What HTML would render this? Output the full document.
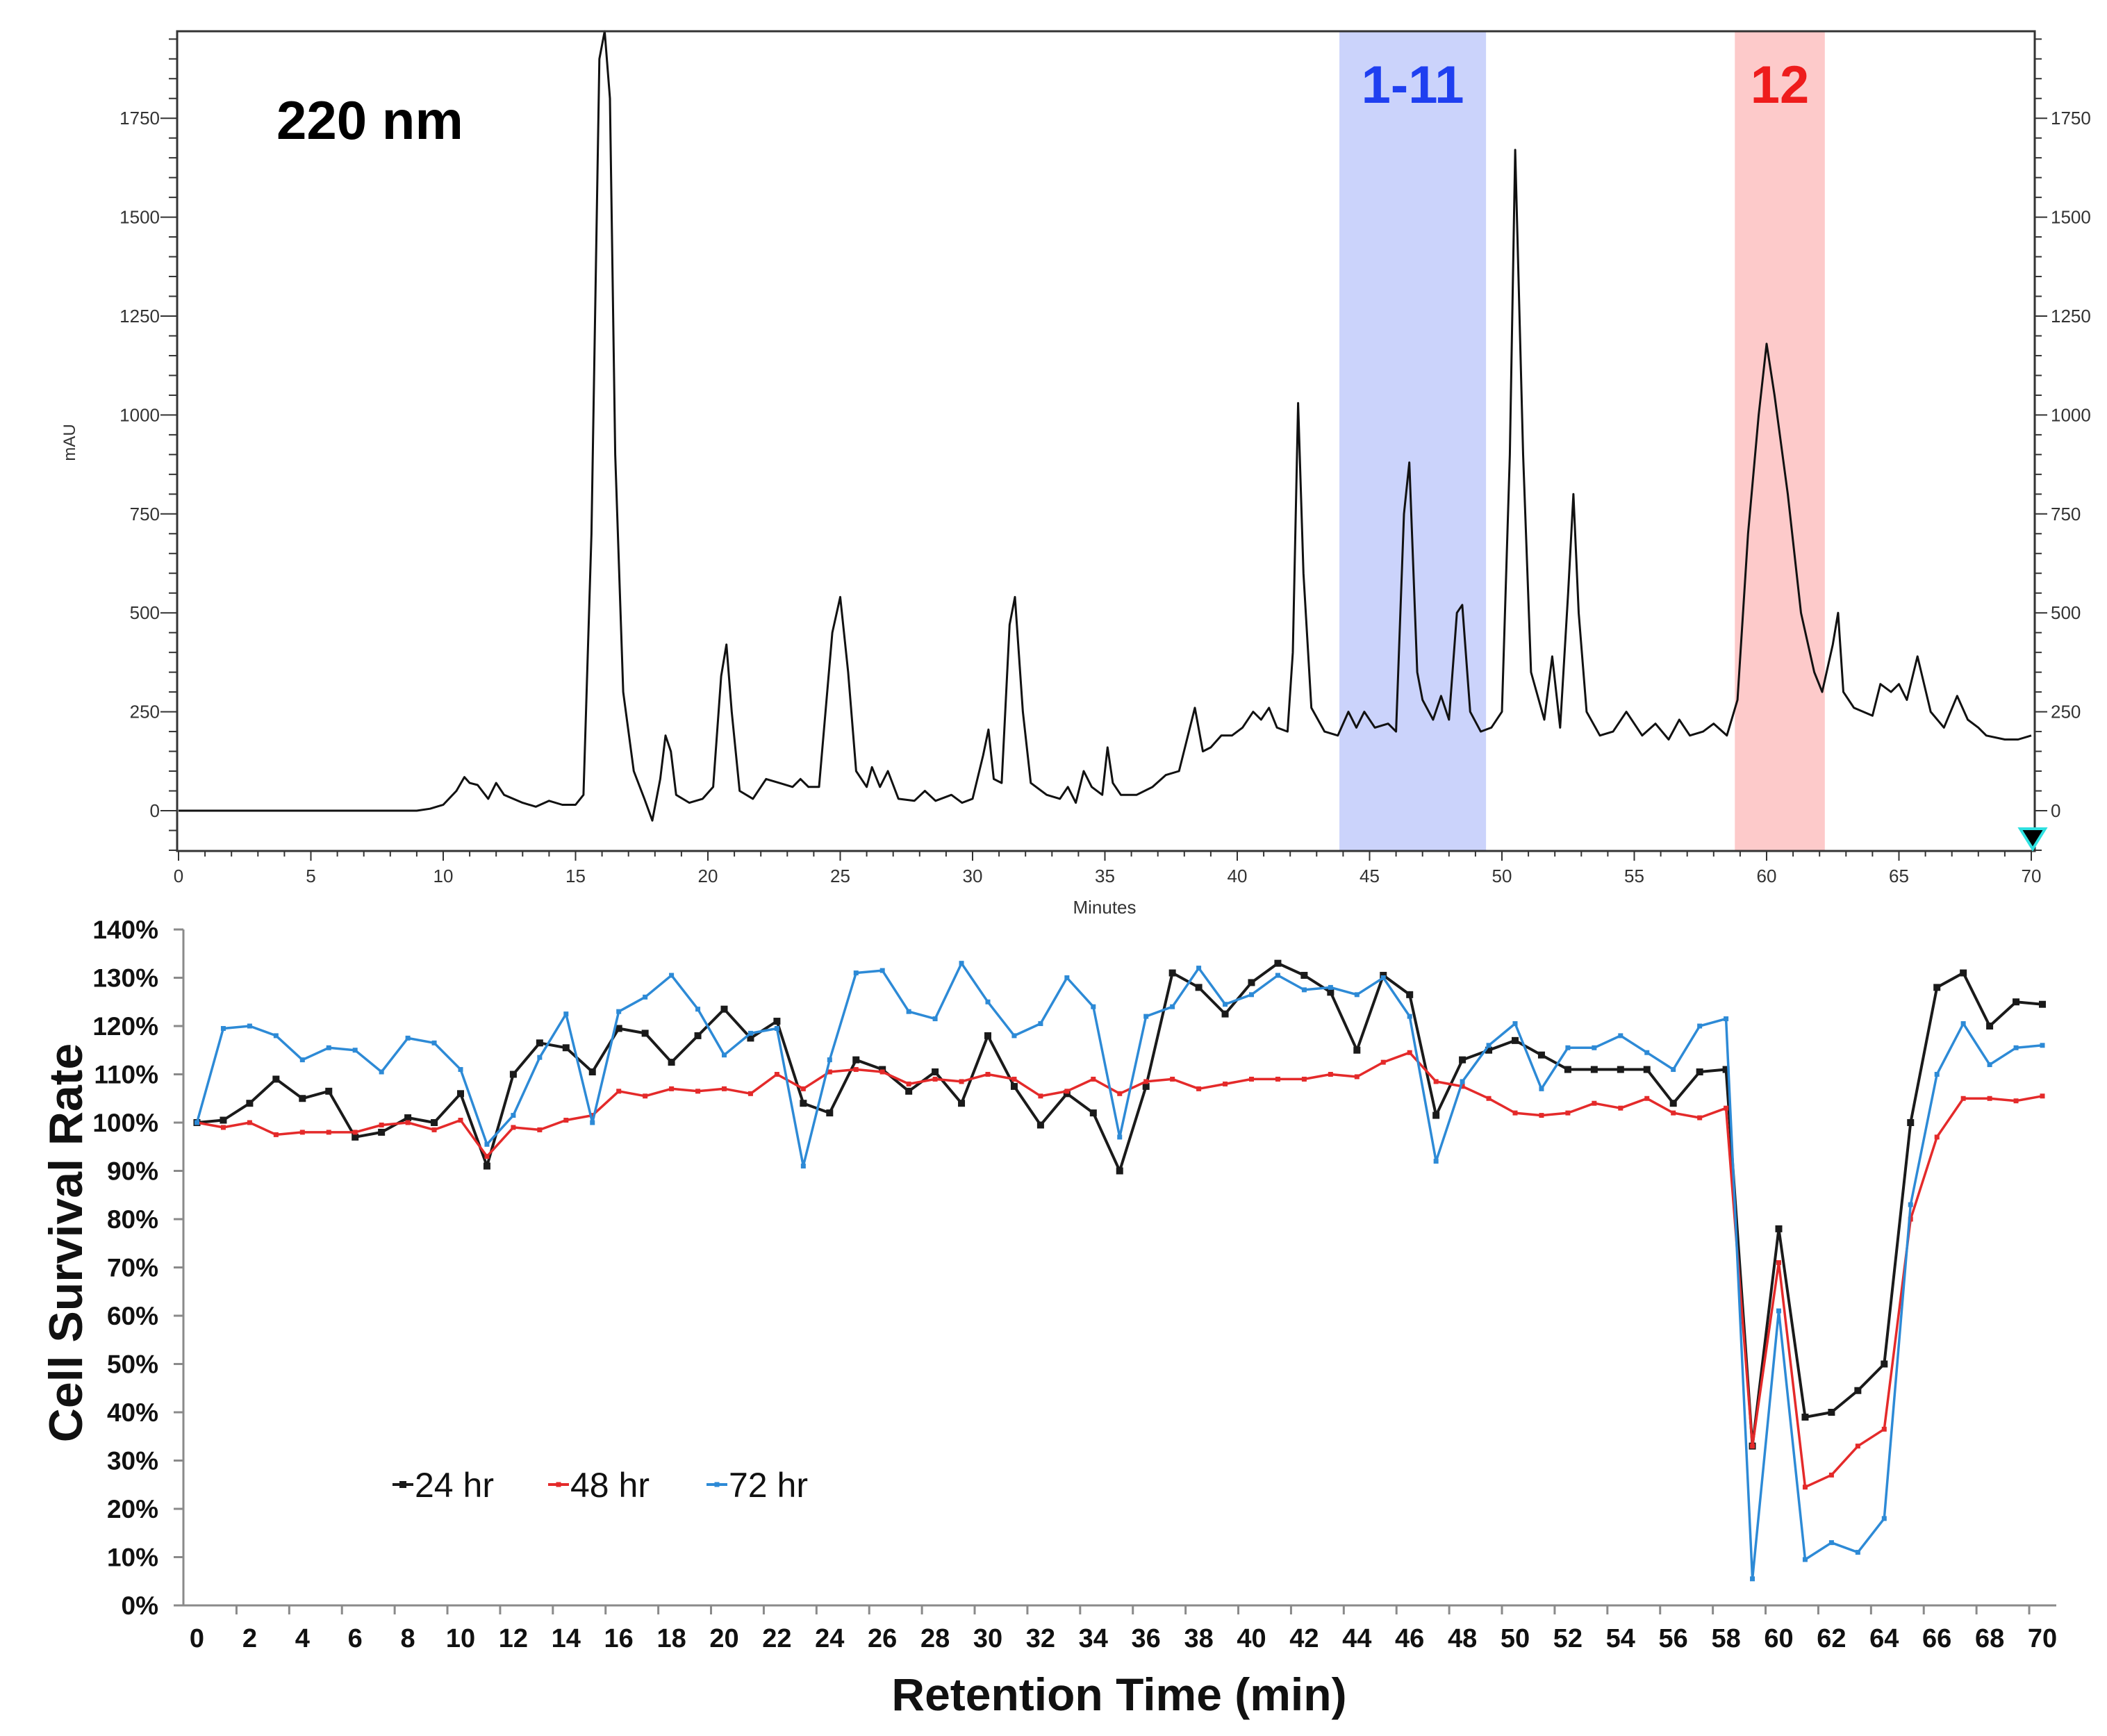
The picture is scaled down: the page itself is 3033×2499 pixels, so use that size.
<!DOCTYPE html>
<html><head><meta charset="utf-8"><style>
html,body{margin:0;padding:0;background:#fff}
svg{display:block;font-family:"Liberation Sans",Arial,sans-serif}
</style></head><body>
<svg id="fig" width="3033" height="2499" viewBox="0 0 3033 2499" xmlns="http://www.w3.org/2000/svg">
<g id="top"></g>
<g id="bot"></g>
</svg>
<script>
// ---- Chromatogram data (minutes, mAU) ----
const chromTime = [0,9.0,9.5,10,10.5,10.8,11.0,11.3,11.7,12.0,12.3,13,13.5,14.0,14.5,15.0,15.3,15.6,15.9,16.1,16.3,16.5,16.8,17.2,17.6,17.9,18.2,18.4,18.6,18.8,19.3,19.8,20.2,20.5,20.7,20.9,21.2,21.7,22.2,22.7,23.2,23.5,23.8,24.2,24.7,25.0,25.3,25.6,26.0,26.2,26.5,26.8,27.2,27.8,28.2,28.6,29.2,29.6,30.0,30.4,30.6,30.8,31.1,31.4,31.6,31.9,32.2,32.8,33.3,33.6,33.9,34.2,34.5,34.9,35.1,35.3,35.6,36.2,36.8,37.3,37.8,38.1,38.4,38.7,39.0,39.4,39.8,40.2,40.6,40.9,41.2,41.5,41.9,42.1,42.3,42.5,42.8,43.3,43.8,44.2,44.5,44.8,45.2,45.7,46.0,46.3,46.5,46.8,47.0,47.4,47.7,48.0,48.3,48.5,48.8,49.2,49.6,50.0,50.3,50.5,50.8,51.1,51.6,51.9,52.2,52.5,52.7,52.9,53.2,53.7,54.2,54.7,55.3,55.8,56.3,56.7,57.1,57.6,58.0,58.5,58.9,59.3,59.7,60.0,60.3,60.8,61.3,61.8,62.1,62.5,62.7,62.9,63.3,64.0,64.3,64.7,65.0,65.3,65.7,66.2,66.7,67.2,67.6,68.0,68.3,69.0,69.5,70.0];
const chromMAU = [0,0,5,15,50,85,70,65,30,70,40,20,10,25,15,15,40,700,1900,1970,1800,900,300,100,30,-25,80,190,150,40,20,30,60,340,420,250,50,30,80,70,60,80,60,60,450,540,350,100,60,110,60,100,30,25,50,25,40,20,30,140,205,80,70,470,540,250,70,40,30,60,20,100,60,40,160,70,40,40,60,90,100,180,260,150,160,190,190,210,250,230,260,210,200,400,1030,600,260,200,190,250,210,250,210,220,200,750,880,350,280,230,290,230,500,520,250,200,210,250,900,1670,900,350,230,390,210,550,800,500,250,190,200,250,190,220,180,230,190,200,220,190,280,700,1000,1180,1050,800,500,350,300,420,500,300,260,240,320,300,320,280,390,250,210,290,230,210,190,180,180,190];
const chromYTicks = [0,250,500,750,1000,1250,1500,1750];
const chromXTicks = [0,5,10,15,20,25,30,35,40,45,50,55,60,65,70];
const bandStart = [43.86, 58.8];
const bandEnd = [49.4, 62.2];
const bandLabels = ["1-11","12"];

// ---- Survival data ----
const retention = Array.from({length:71},(_, i)=>i);
const s24 = [100,100.5,104,109,105,106.5,97,98,101,100,106,91,110,116.5,115.5,110.5,119.5,118.5,112.5,118,123.5,117.5,121,104,102,113,111,106.5,110.5,104,118,107.5,99.5,106,102,90,107.5,131,128,122.5,129,133,130.5,127,115,130.5,126.5,101.5,113,115,117,114,111,111,111,111,104,110.5,111,33,78,39,40,44.5,50,100,128,131,120,125,124.5];
const s48 = [100,99,100,97.5,98,98,98,99.5,100,98.5,100.5,93,99,98.5,100.5,101.5,106.5,105.5,107,106.5,107,106,110,107,110.5,111,110.5,108,109,108.5,110,109,105.5,106.5,109,106,108.5,109,107,108,109,109,109,110,109.5,112.5,114.5,108.5,107.5,105,102,101.5,102,104,103,105,102,101,103,33,71,24.5,27,33,36.5,80,97,105,105,104.5,105.5];
const s72 = [100,119.5,120,118,113,115.5,115,110.5,117.5,116.5,111,95.5,101.5,113.5,122.5,100,123,126,130.5,123.5,114,118.5,119.5,91,113,131,131.5,123,121.5,133,125,118,120.5,130,124,97,122,124,132,124.5,126.5,130.5,127.5,128,126.5,130,122,92,108.5,116,120.5,107,115.5,115.5,118,114.5,111,120,121.5,5.5,61,9.5,13,11,18,83,110,120.5,112,115.5,116];
const survYTicks = [0,10,20,30,40,50,60,70,80,90,100,110,120,130,140];
const seriesNames = ["24 hr","48 hr","72 hr"];

const NS="http://www.w3.org/2000/svg";
function mk(parent,tag,attrs,text){const e=document.createElementNS(NS,tag);for(const k in attrs)e.setAttribute(k,attrs[k]);if(text!==undefined)e.textContent=text;parent.appendChild(e);return e;}

// ===== Top chart =====
const T=document.getElementById('top');
const cx=t=>257+t*38.1;
const cy=v=>1167-v*142.4/250;
const L=255,R=2929,TP=45,BT=1225;
bandStart.forEach((s,i)=>{
  const r=mk(T,'rect',{x:cx(s),y:TP,width:cx(bandEnd[i])-cx(s),height:BT-TP,fill:i===0?'#cbd3fb':'#fdcaca'});
  
  
  const tx=mk(T,'text',{x:(cx(s)+cx(bandEnd[i]))/2,y:148,'text-anchor':'middle','font-size':76,'font-weight':'bold',fill:i===0?'#1f3ff0':'#ee1c1c'},bandLabels[i]);
  
  
});
let d='';chromTime.forEach((t,i)=>{d+=(i?'L':'M')+cx(t).toFixed(1)+' '+cy(chromMAU[i]).toFixed(1);});
const tr=mk(T,'path',{d:d,fill:'none',stroke:'#111','stroke-width':3,'stroke-linejoin':'round'});


const fr=mk(T,'rect',{x:L,y:TP,width:R-L,height:BT-TP,fill:'none',stroke:'#333','stroke-width':3});


for(let v=-100;v<=1950;v+=50){
  const major=v%250===0, y=cy(v);
  if(y<TP||y>BT)continue;
  mk(T,'line',{x1:L-(major?24:12),x2:L,y1:y,y2:y,stroke:'#333','stroke-width':2});
  mk(T,'line',{x1:R,x2:R+(major?18:10),y1:y,y2:y,stroke:'#333','stroke-width':2});
}
chromYTicks.forEach(v=>{
  const a=mk(T,'text',{x:230,y:cy(v)+9,'text-anchor':'end','font-size':26,fill:'#333'},String(v));
  
  
  const b=mk(T,'text',{x:2952,y:cy(v)+9,'text-anchor':'start','font-size':26,fill:'#333'},String(v));
  
  
});
for(let t=0;t<=70;t++){
  const major=t%5===0;
  mk(T,'line',{x1:cx(t),x2:cx(t),y1:BT,y2:BT+(major?14:8),stroke:'#333','stroke-width':2});
}
chromXTicks.forEach(t=>{
  const a=mk(T,'text',{x:cx(t),y:1270,'text-anchor':'middle','font-size':26,fill:'#333'},String(t));
  
  
});
let e=mk(T,'text',{x:1590,y:1315,'text-anchor':'middle','font-size':26,fill:'#333'},'Minutes');


e=mk(T,'text',{x:108,y:637,'text-anchor':'middle','font-size':24,fill:'#333',transform:'rotate(-90 108 637)'},'mAU');


e=mk(T,'text',{x:398,y:200,'font-size':78,'font-weight':'bold',fill:'#000'},'220 nm');


e=mk(T,'path',{d:'M2908 1193 L2944 1193 L2926 1222 Z',fill:'#000',stroke:'#2ee0e0','stroke-width':4});



// ===== Bottom chart =====
const B=document.getElementById('bot');
const bx=i=>283.5+i*37.95;
const by=v=>2311-v*6.95;
const AX='#8a8a8a';
mk(B,'line',{x1:264,x2:264,y1:1338,y2:2311,stroke:AX,'stroke-width':3});
mk(B,'line',{x1:264,x2:2960,y1:2311,y2:2311,stroke:AX,'stroke-width':3});
survYTicks.forEach(v=>{
  mk(B,'line',{x1:250,x2:264,y1:by(v),y2:by(v),stroke:AX,'stroke-width':3});
  const t=mk(B,'text',{x:228,y:by(v)+13,'text-anchor':'end','font-size':37,'font-weight':'bold',fill:'#111'},v+'%');
  
  
});
retention.forEach(i=>{
  if(i%2===1){mk(B,'line',{x1:bx(i+0.5),x2:bx(i+0.5),y1:2311,y2:2324,stroke:AX,'stroke-width':3});}
  if(i%2===0){
    const t=mk(B,'text',{x:bx(i),y:2371,'text-anchor':'middle','font-size':38,'font-weight':'bold',fill:'#111'},String(i));
    
    
  }
});
e=mk(B,'text',{x:1611,y:2462,'text-anchor':'middle','font-size':66,'font-weight':'bold',fill:'#111'},'Retention Time (min)');


e=mk(B,'text',{x:118,y:1789,'text-anchor':'middle','font-size':68,'font-weight':'bold',fill:'#111',transform:'rotate(-90 118 1789)'},'Cell Survival Rate');



const series=[s24,s48,s72], cols=['#1a1a1a','#e42a2a','#2d8ad6'], msz=[10,7,7];
series.forEach((s,k)=>{
  let p='';s.forEach((v,i)=>{p+=(i?'L':'M')+bx(retention[i]).toFixed(1)+' '+by(v).toFixed(1);});
  const ln=mk(B,'path',{d:p,fill:'none',stroke:cols[k],'stroke-width':k===0?4:3.5,'stroke-linejoin':'round'});
  
  
  s.forEach((v,i)=>{
    const m=mk(B,'rect',{x:bx(retention[i])-msz[k]/2,y:by(v)-msz[k]/2,width:msz[k],height:msz[k],fill:cols[k]});
    
    
  });
});
const legX=[565,789,1017];
seriesNames.forEach((n,k)=>{
  const g=mk(B,'g',{});
  
  
  mk(g,'line',{x1:legX[k],x2:legX[k]+30,y1:2137,y2:2137,stroke:cols[k],'stroke-width':4});
  mk(g,'rect',{x:legX[k]+15-msz[k]/2,y:2137-msz[k]/2,width:msz[k],height:msz[k],fill:cols[k]});
  mk(g,'text',{x:legX[k]+32,y:2155,'font-size':50,fill:'#111'},n);
});
</script>
</body></html>
